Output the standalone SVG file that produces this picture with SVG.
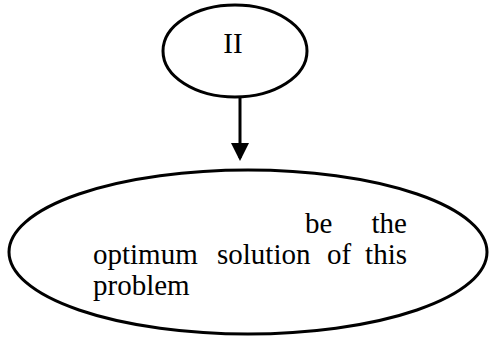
<svg xmlns="http://www.w3.org/2000/svg" width="491" height="338" viewBox="0 0 491 338">
<style>
.shape{fill:#fff;stroke:#000;stroke-width:3}
.t{font-family:"Liberation Serif","Times New Roman",serif;font-size:29px;fill:#000}
.conn{stroke:#000;stroke-width:3;fill:none}
</style>
<defs>
<marker id="ah" markerWidth="6" markerHeight="6" refX="5" refY="3" orient="auto" markerUnits="strokeWidth">
<path d="M0,0 L6,3 L0,6 Z" fill="#000"/>
</marker>
</defs>
<rect width="491" height="338" fill="#fff"/>
<g id="connectors">
<line class="conn" x1="240" y1="97" x2="240" y2="158" marker-end="url(#ah)"/>
</g>
<g id="node-ii">
<ellipse class="shape" cx="235" cy="51" rx="72" ry="46"/>
<text class="t" x="233" y="53" text-anchor="middle">II</text>
</g>
<g id="node-optimum">
<ellipse class="shape" cx="248" cy="252" rx="239" ry="82"/>
<text class="t" x="305" y="233">be</text>
<text class="t" x="407" y="233" text-anchor="end">the</text>
<text class="t" x="93" y="264">optimum</text>
<text class="t" x="217" y="264">solution</text>
<text class="t" x="327" y="264">of</text>
<text class="t" x="407" y="264" text-anchor="end">this</text>
<text class="t" x="93" y="295">problem</text>
</g>
</svg>
